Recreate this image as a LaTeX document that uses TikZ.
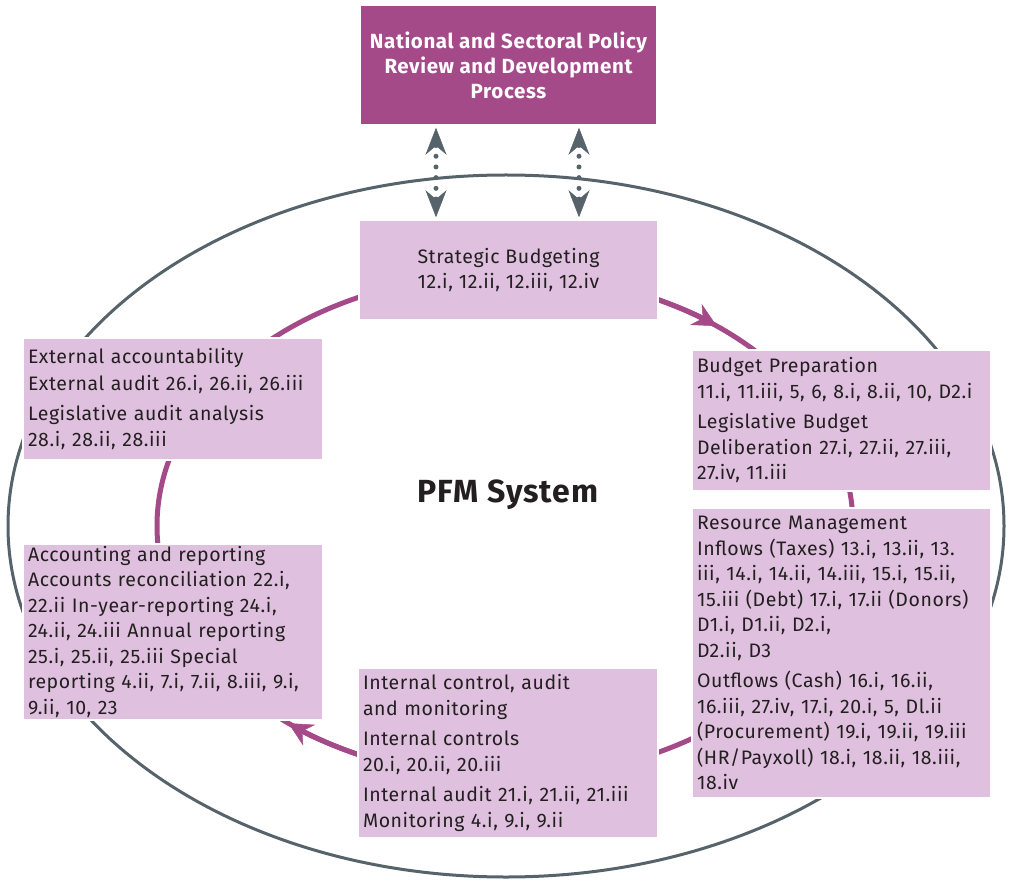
\documentclass[tikz,border=0pt]{standalone}
\usepackage{fontspec}
\setmainfont{Fira Sans}[LetterSpace=3]
\usetikzlibrary{arrows.meta}
\definecolor{plum}{HTML}{A44A88}
\definecolor{lilac}{HTML}{DFC0DE}
\definecolor{slate}{HTML}{56636B}
\definecolor{ink}{HTML}{231F20}
\begin{document}
\begin{tikzpicture}[x=1pt,y=1pt,
  box/.style={rectangle, fill=lilac, draw=white, line width=1.5pt, inner xsep=5pt, inner ysep=0pt,
    text=ink, font=\fontsize{19.5}{25.5}\selectfont},
  leftbox/.style={box, text width=#1, align=left},
  titlebox/.style={rectangle, fill=plum, draw=white, line width=1.5pt, text=white,
    align=center, font=\fontsize{20.5}{25}\selectfont\bfseries},
  dotarrow/.style={slate, line width=5pt, line cap=round, dash pattern=on 0pt off 10.7pt,
    shorten <=2pt, shorten >=2pt,
    {Stealth[length=27pt,width=21pt,inset=9pt,line width=0.5pt]}-{Stealth[length=27pt,width=21pt,inset=9pt,line width=0.5pt]}},
  cycle/.style={plum, line width=5pt},
  cyclearrow/.style={cycle, -{Stealth[length=24pt,width=24pt,inset=8pt,line width=0.5pt]}}
]
\useasboundingbox (0,0) rectangle (1009,-882);

% outer system ellipse and inner cycle
\draw[slate, line width=3pt] (506,-526) ellipse [x radius=498, y radius=351];
\draw[cycle] (505,-526) ellipse [x radius=348, y radius=252];
\draw[cyclearrow] (505,-526) ++(66:348 and 252) arc[start angle=66, end angle=52.5, x radius=348, y radius=252];
\draw[cyclearrow] (505,-526) ++(245:348 and 252) arc[start angle=245, end angle=231.5, x radius=348, y radius=252];

% top policy box
\node[titlebox, minimum width=297pt, minimum height=120pt] (policy) at (508.5,-65)
  {National and Sectoral Policy\\Review and Development\\Process};

% strategic budgeting
\node[box, align=center, minimum width=299pt, minimum height=100pt] (strat) at (508.5,-270)
  {\fontsize{19.5}{24}\selectfont Strategic Budgeting\\12.i, 12.ii, 12.iii, 12.iv};

% external accountability
\node[leftbox=290pt, minimum height=122pt] (ext) at (173,-399)
  {External accountability\\[1pt]
   External audit 26.i, 26.ii, 26.iii\\[5pt]
   Legislative audit analysis\\
   28.i, 28.ii, 28.iii};

% budget preparation
\node[leftbox=289pt, minimum height=141pt] (prep) at (841.5,-420.5)
  {Budget Preparation\\
   11.i, 11.iii, 5, 6, 8.i, 8.ii, 10, D2.i\\[5pt]
   Legislative Budget\\
   Deliberation 27.i, 27.ii, 27.iii,\\
   27.iv, 11.iii};

% resource management
\node[leftbox=289pt, minimum height=290pt] (res) at (841.5,-653)
  {Resource Management\\
   Inflows (Taxes) 13.i, 13.ii, 13.\\
   iii, 14.i, 14.ii, 14.iii, 15.i, 15.ii,\\
   15.iii (Debt) 17.i, 17.ii (Donors)\\
   D1.i, D1.ii, D2.i,\\
   D2.ii, D3\\[5pt]
   Outflows (Cash) 16.i, 16.ii,\\
   16.iii, 27.iv, 17.i, 20.i, 5, Dl.ii\\
   (Procurement) 19.i, 19.ii, 19.iii\\
   (HR/Payxoll) 18.i, 18.ii, 18.iii,\\
   18.iv};

% accounting and reporting
\node[leftbox=290pt, minimum height=176pt] (acc) at (173,-632)
  {Accounting and reporting\\
   Accounts reconciliation 22.i,\\
   22.ii In-year-reporting 24.i,\\
   24.ii, 24.iii Annual reporting\\
   25.i, 25.ii, 25.iii Special\\
   reporting 4.ii, 7.i, 7.ii, 8.iii, 9.i,\\
   9.ii, 10, 23};

% internal control
\node[leftbox=290pt, minimum height=170pt] (int) at (508,-753)
  {Internal control, audit\\
   and monitoring\\[5pt]
   Internal controls\\
   20.i, 20.ii, 20.iii\\[5pt]
   Internal audit 21.i, 21.ii, 21.iii\\
   Monitoring 4.i, 9.i, 9.ii};

% centre label
\node[text=ink, font=\fontsize{32}{34}\selectfont\bfseries] (pfm) at (508,-495) {PFM System};

% dotted two-way links
\coordinate (xa) at (436,0);
\coordinate (xb) at (579,0);
\draw[dotarrow] (policy.south -| xa) -- (strat.north -| xa);
\draw[dotarrow] (policy.south -| xb) -- (strat.north -| xb);
\end{tikzpicture}
\end{document}
